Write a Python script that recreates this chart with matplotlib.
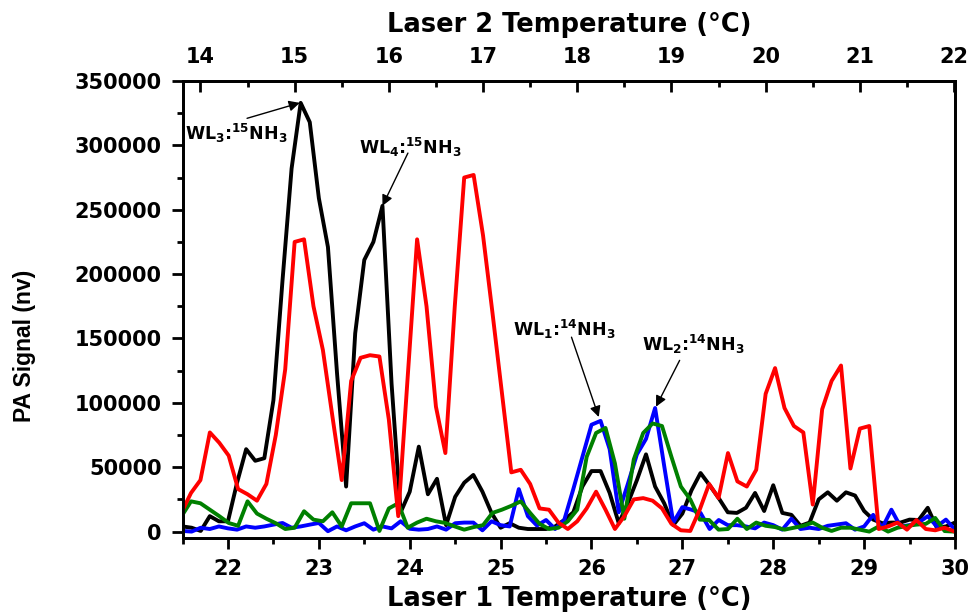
import numpy as np
import matplotlib
matplotlib.use("Agg")
import matplotlib.pyplot as plt
from matplotlib.ticker import MultipleLocator

# temperature grids of the two scans (0.1 °C steps)
laser1_temp = np.round(np.arange(21.5, 30.05, 0.1), 1)   # bottom axis
laser2_temp = np.round(np.arange(13.8, 22.05, 0.1), 1)   # top axis

# PA signal in thousands of nv
black_k = [4, 3, 0.5, 12, 8, 8, 38, 64, 55, 57,
           102, 195, 282, 333, 318, 259, 221, 123, 35, 154,
           211, 225, 253, 115, 15, 31, 66, 29, 41, 5,
           27, 38, 44, 31, 14.5, 3, 6.5, 3, 2, 2,
           2, 4, 9, 15, 35, 47, 47, 30, 6.5, 22,
           40, 60, 35, 22, 5, 14, 32, 45.5, 36, 26,
           15, 14.5, 18.5, 30, 16, 36, 14.5, 13, 4.5, 7,
           25, 30.5, 24, 30.5, 28, 16, 9.3, 6.5, 7, 7,
           9.3, 9, 18.5, 3, 4, 7]

blue_k = [0.5, 0, 3, 2, 4, 2.5, 1.5, 4, 3, 4,
          5.4, 6.7, 3, 4, 5.4, 6.7, 0.3, 4, 1, 4,
          6.5, 1.5, 4, 2.5, 8, 2.2, 1.5, 2, 4, 1.5,
          6.5, 7, 7, 1, 8, 5, 4, 33, 12, 4.7,
          9, 2, 9, 33, 58, 83, 86, 64, 15, 37,
          60, 72, 96, 51, 7, 19, 17, 14.5, 2, 9,
          5, 5, 4, 2.5, 7, 5, 1.5, 10, 2, 3,
          2, 4.5, 5.5, 6.5, 1.5, 4, 13, 3, 17, 4,
          5, 7, 12, 4, 9.3, 1.5]

red_k = [15, 30, 40, 77, 69, 59, 33, 29, 24, 37,
         75, 126, 225, 227, 175, 141, 90, 40, 117, 135,
         137, 136, 87, 12, 120, 227, 175, 97, 61, 175,
         275, 277, 230, 170, 108, 46, 48, 37, 18, 17,
         7, 2, 8, 18, 31, 17, 2, 12, 25, 26,
         24, 18, 6, 1, 0.5, 17, 37, 26, 61, 39,
         35, 48, 107, 127, 96, 82, 77, 21, 95, 117,
         129, 49, 80, 82, 2, 4, 7, 1.5, 9, 2,
         1, 3, 0.2]

green_k = [12, 23.5, 22, 17, 12, 6.7, 4.5, 23.5, 14, 10,
           6.5, 2, 3, 15.8, 9.3, 8, 15, 4, 22, 22,
           22, 0.5, 18, 22, 3, 7, 10, 8, 6.7, 4,
           1.5, 3.5, 5, 14.5, 17, 20, 23.5, 14.5, 6, 2,
           3, 8, 17, 58, 76.6, 80.5, 53, 10, 56, 76.6,
           84, 82, 58, 35, 25, 9.3, 9, 1.5, 2, 10,
           2, 7, 4.5, 3.5, 1.5, 3, 4.5, 7, 3, 0.5,
           3, 3, 1.5, 0, 4, 0, 3, 4.4, 5.4, 6,
           10.6, 0.4, 0]

black = np.array(black_k) * 1000
blue = np.array(blue_k) * 1000
red = np.array(red_k) * 1000
green = np.array(green_k) * 1000

# peak labels: (text, text position, arrow tail, arrow head) in laser 1 / nv units
peaks = [
    (r"$\mathbf{WL_3}$:$\mathbf{{}^{15}NH_3}$", (21.53, 309000), (22.21, 321000), (22.79, 333000)),
    (r"$\mathbf{WL_4}$:$\mathbf{{}^{15}NH_3}$", (23.44, 298000), (23.98, 294000), (23.70, 253000)),
    (r"$\mathbf{WL_1}$:$\mathbf{{}^{14}NH_3}$", (25.14, 157000), (25.78, 151000), (26.08, 89000)),
    (r"$\mathbf{WL_2}$:$\mathbf{{}^{14}NH_3}$", (26.56, 145000), (26.97, 133000), (26.71, 97000)),
]

tick_font = dict(family="DejaVu Sans", weight="bold", size=15)
title_font = dict(family="DejaVu Sans", weight="bold", size=18.5)

fig = plt.figure(figsize=(9.73, 6.13), dpi=100)
ax = fig.add_axes([0.1876, 0.1223, 0.7939, 0.7456])

lw = 2.8
ax.plot(laser1_temp, black, color="black", lw=lw)
ax.plot(laser1_temp, blue, color="#0000ff", lw=lw)

ax.set_xlim(21.5, 30)
ax.set_ylim(-5000, 350000)
ax.xaxis.set_major_locator(MultipleLocator(1))
ax.xaxis.set_minor_locator(MultipleLocator(0.5))
ax.yaxis.set_minor_locator(MultipleLocator(25000))
ax.set_yticks(np.arange(0, 350001, 50000))
ax.tick_params(which="both", direction="out", width=2, top=False, right=False)
ax.tick_params(which="major", length=8, pad=7)
ax.tick_params(which="minor", length=4.5)
for lab in ax.get_xticklabels() + ax.get_yticklabels():
    lab.set_fontproperties(tick_font)
    lab.set_fontsize(15)

ax.set_xlabel("Laser 1 Temperature (\u00b0C)", fontdict=title_font, labelpad=5)
ax.set_ylabel("PA Signal (nv)", family="Liberation Sans", weight="bold", size=16.5)
ax.yaxis.set_label_coords(-0.19, 0.42)

for sp in ax.spines.values():
    sp.set_linewidth(2)

# laser 2 scan on the top axis
ax2 = ax.twiny()
ax2.plot(laser2_temp, green, color="#008000", lw=lw)
ax2.plot(laser2_temp, red, color="#ff0000", lw=lw)
ax2.set_xlim(13.81, 22.01)
ax2.xaxis.set_major_locator(MultipleLocator(1))
ax2.xaxis.set_minor_locator(MultipleLocator(0.5))
ax2.tick_params(which="both", direction="in", width=2)
ax2.tick_params(which="major", length=8, pad=10)
ax2.tick_params(which="minor", length=4.5)
for lab in ax2.get_xticklabels():
    lab.set_fontproperties(tick_font)
    lab.set_fontsize(15)
ax2.set_xlabel("Laser 2 Temperature (\u00b0C)", fontdict=title_font, labelpad=11)
for sp in ax2.spines.values():
    sp.set_linewidth(2)

for label, txt_xy, tail, head in peaks:
    ax2.text(*txt_xy, label, transform=ax.transData, ha="left", va="center",
             fontsize=12.5, fontweight="bold", color="black")
    ax2.annotate("", xy=head, xytext=tail, xycoords=ax.transData,
                 textcoords=ax.transData,
                 arrowprops=dict(arrowstyle="-|>", color="black", lw=1,
                                 mutation_scale=16, shrinkA=0, shrinkB=0))

fig.savefig("out.png", dpi=100)
